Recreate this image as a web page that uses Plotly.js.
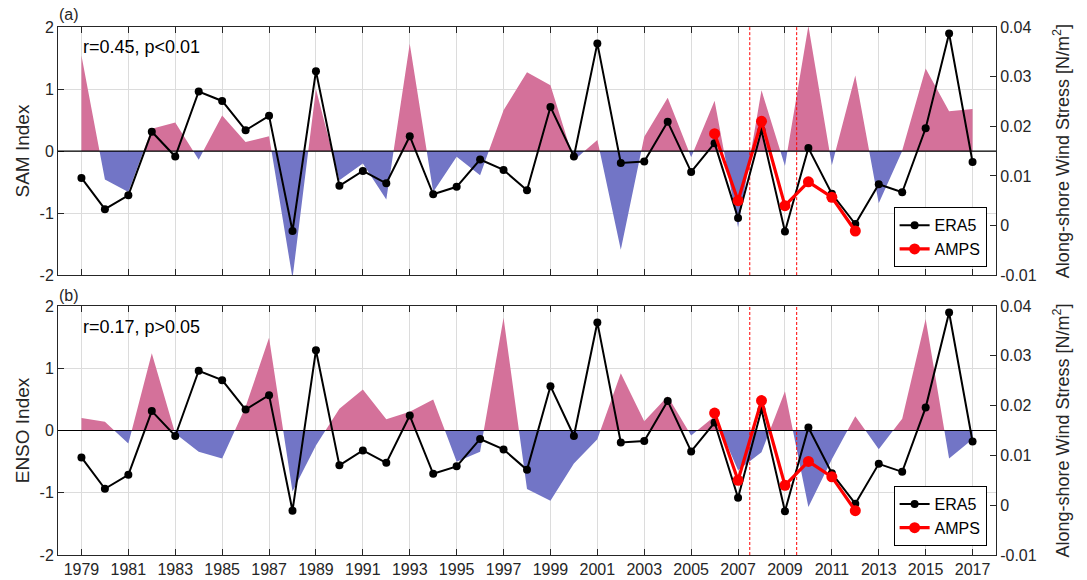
<!DOCTYPE html>
<html>
<head>
<meta charset="utf-8">
<script src="https://cdn.plot.ly/plotly-3.0.1.min.js"></script>
<style>html,body{margin:0;padding:0;background:#fff;}#chart{width:1087px;height:580px;}</style>
</head>
<body>
<div id="chart"></div>
<script>
// ---- data ----
const years = [1979,1980,1981,1982,1983,1984,1985,1986,1987,1988,1989,1990,1991,1992,1993,1994,1995,1996,1997,1998,
               1999,2000,2001,2002,2003,2004,2005,2006,2007,2008,2009,2010,2011,2012,2013,2014,2015,2016,2017];
const samIndex = [1.54,-0.46,-0.66,0.36,0.46,-0.14,0.575,0.145,0.24,-2.05,1.0,-0.47,-0.2,-0.78,1.73,-0.66,-0.09,-0.39,0.66,1.27,
                  1.06,-0.15,0.18,-1.59,0.23,0.86,-0.1,0.81,-1.23,0.98,-0.24,2.02,-0.23,1.22,-0.84,0.01,1.33,0.64,0.68];
const ensoIndex = [0.20,0.14,-0.21,1.24,-0.05,-0.34,-0.45,0.38,1.49,-0.98,-0.24,0.35,0.66,0.18,0.30,0.50,-0.50,-0.34,1.81,-0.94,
                   -1.13,-0.53,-0.14,0.92,0.15,0.55,-0.08,0.23,-0.64,-0.35,0.63,-1.23,-0.46,0.23,-0.30,0.19,1.79,-0.45,-0.14];
const era5Stress = [0.0096,0.0033,0.0061,0.0189,0.0139,0.0270,0.0251,0.0192,0.0221,-0.0011,0.0311,0.0080,0.0110,0.0085,0.0180,0.0063,0.0078,0.0133,0.0112,0.0071,
                    0.0239,0.0139,0.0367,0.0126,0.0129,0.0209,0.0108,0.0166,0.0015,0.0192,-0.0012,0.0156,0.0064,0.0003,0.0083,0.0067,0.0196,0.0387,0.0128];
const ampsYears = [2006,2007,2008,2009,2010,2011,2012];
const ampsStress = [0.0185,0.0050,0.0210,0.0040,0.0088,0.0057,-0.0011];
const xTickVals = [1979,1981,1983,1985,1987,1989,1991,1993,1995,1997,1999,2001,2003,2005,2007,2009,2011,2013,2015,2017];
const xTickText = ['1979','1981','1983','1985','1987','1989','1991','1993','1995','1997','1999','2001','2003','2005','2007','2009','2011','2013','2015','2017'];
const idxTickVals = [-2,-1,0,1,2];
const idxTickText = ['-2','-1','0','1','2'];
const wsTickVals = [-0.01,0,0.01,0.02,0.03,0.04];
const wsTickText = ['-0.01','0','0.01','0.02','0.03','0.04'];
const ampsPeriodYears = [2007.5, 2009.5];

// ---- helpers ----
const PINK = '#d4719a', BLUE = '#7275c6', INK = '#262626';
function signedFill(x, v, positive) {
  const xs = [], ys = [];
  for (let i = 0; i < v.length; i++) {
    ys.push(positive ? Math.max(v[i], 0) : Math.min(v[i], 0));
    xs.push(x[i]);
    if (i < v.length - 1 && v[i] * v[i + 1] < 0) {
      const t = v[i] / (v[i] - v[i + 1]);
      xs.push(x[i] + (x[i + 1] - x[i]) * t);
      ys.push(0);
    }
  }
  return {xs, ys};
}
function fillTraces(v, xa, ya) {
  const p = signedFill(years, v, true), n = signedFill(years, v, false);
  return [
    {x: p.xs, y: p.ys, xaxis: xa, yaxis: ya, type: 'scatter', mode: 'lines', fill: 'tozeroy',
     fillcolor: PINK, line: {width: 0, color: PINK}, showlegend: false, hoverinfo: 'skip'},
    {x: n.xs, y: n.ys, xaxis: xa, yaxis: ya, type: 'scatter', mode: 'lines', fill: 'tozeroy',
     fillcolor: BLUE, line: {width: 0, color: BLUE}, showlegend: false, hoverinfo: 'skip'}
  ];
}
function dashTrace(yr, xa, ya) {
  return {x: [yr, yr], y: [-2, 2], xaxis: xa, yaxis: ya, type: 'scatter', mode: 'lines',
    line: {color: '#ff0000', width: 1, dash: '3px,2px'}, showlegend: false, hoverinfo: 'skip'};
}
function lineTraces(xa, ya, legend) {
  return [
    {x: years, y: era5Stress, xaxis: xa, yaxis: ya, type: 'scatter', mode: 'lines+markers', name: 'ERA5',
     line: {color: '#000', width: 2}, marker: {color: '#000', size: 8}, legend: legend},
    {x: ampsYears, y: ampsStress, xaxis: xa, yaxis: ya, type: 'scatter', mode: 'lines+markers', name: 'AMPS',
     line: {color: '#ff0000', width: 3.2}, marker: {color: '#ff0000', size: 11}, legend: legend}
  ];
}

const data = [].concat(
  fillTraces(samIndex, 'x', 'y'),
  ampsPeriodYears.map(function (yr) { return dashTrace(yr, 'x', 'y'); }),
  fillTraces(ensoIndex, 'x2', 'y3'),
  ampsPeriodYears.map(function (yr) { return dashTrace(yr, 'x2', 'y3'); }),
  lineTraces('x', 'y2', 'legend'),
  lineTraces('x2', 'y4', 'legend2')
);

const FONT = 'Liberation Sans, Arial, Helvetica, sans-serif';
function xAxis(anchor, labels) {
  return {domain: [0, 1], anchor: anchor, range: [1978, 2018], tickvals: xTickVals, ticktext: xTickText,
    showticklabels: labels, ticks: 'inside', ticklen: 6, tickcolor: INK, showline: true, linecolor: INK, linewidth: 1,
    mirror: 'ticks', showgrid: true, gridcolor: '#dcdcdc', gridwidth: 1, zeroline: false,
    tickfont: {size: 16, color: INK}};
}
function yLeft(domain, anchor, title) {
  return {domain: domain, anchor: anchor, range: [-2, 2], tickvals: idxTickVals, ticktext: idxTickText,
    ticks: 'inside', ticklen: 6, tickcolor: INK, showline: true, linecolor: INK, linewidth: 1,
    showgrid: true, gridcolor: '#dcdcdc', zeroline: false, tickfont: {size: 16, color: INK},
    title: {text: title, font: {size: 19, color: INK}, standoff: 4}};
}
function yRight(overlay, anchor) {
  return {overlaying: overlay, anchor: anchor, side: 'right', range: [-0.01, 0.04], tickvals: wsTickVals, ticktext: wsTickText,
    ticks: 'inside', ticklen: 6, tickcolor: INK, showline: true, linecolor: INK, linewidth: 1,
    showgrid: false, zeroline: false, tickfont: {size: 16, color: INK},
    title: {text: 'Along-shore Wind Stress [N/m<sup>2</sup>]', font: {size: 18, color: INK}, standoff: 20}};
}

const shapes = [
  {type: 'line', xref: 'x domain', yref: 'y', x0: 0, x1: 1, y0: 0, y1: 0, line: {color: '#000', width: 1.2}, layer: 'above'},
  {type: 'line', xref: 'x2 domain', yref: 'y3', x0: 0, x1: 1, y0: 0, y1: 0, line: {color: '#000', width: 1.2}, layer: 'above'}
];

const legendStyle = function (y) {
  return {x: 0.990, xanchor: 'right', y: y, yanchor: 'bottom', bgcolor: '#fff', bordercolor: '#000', borderwidth: 1,
    font: {size: 16, color: '#000'}, tracegroupgap: 0};
};

const layout = {
  width: 1087, height: 580,
  margin: {l: 58, r: 91, t: 27, b: 25},
  paper_bgcolor: '#fff', plot_bgcolor: '#fff',
  font: {family: FONT, color: INK, size: 16},
  showlegend: true,
  xaxis: xAxis('y', false),
  yaxis: yLeft([0.530, 1], 'x', 'SAM Index'),
  yaxis2: yRight('y', 'x'),
  xaxis2: xAxis('y3', true),
  yaxis3: yLeft([0, 0.4716], 'x2', 'ENSO Index'),
  yaxis4: yRight('y3', 'x2'),
  legend: legendStyle(0.545),
  legend2: legendStyle(0.017),
  shapes: shapes,
  annotations: [
    {xref: 'paper', yref: 'paper', x: -0.001, y: 1.023, xanchor: 'left', yanchor: 'middle', text: '(a)', showarrow: false, font: {size: 16, color: INK}},
    {xref: 'paper', yref: 'paper', x: -0.001, y: 0.492, xanchor: 'left', yanchor: 'middle', text: '(b)', showarrow: false, font: {size: 16, color: INK}},
    {xref: 'x', yref: 'paper', x: 1979, y: 0.962, xanchor: 'left', yanchor: 'middle', text: 'r=0.45, p<0.01', showarrow: false, font: {size: 18, color: '#000'}},
    {xref: 'x2', yref: 'paper', x: 1979, y: 0.432, xanchor: 'left', yanchor: 'middle', text: 'r=0.17, p>0.05', showarrow: false, font: {size: 18, color: '#000'}}
  ]
};

Plotly.newPlot('chart', data, layout, {displayModeBar: false, staticPlot: true});
</script>
</body>
</html>
